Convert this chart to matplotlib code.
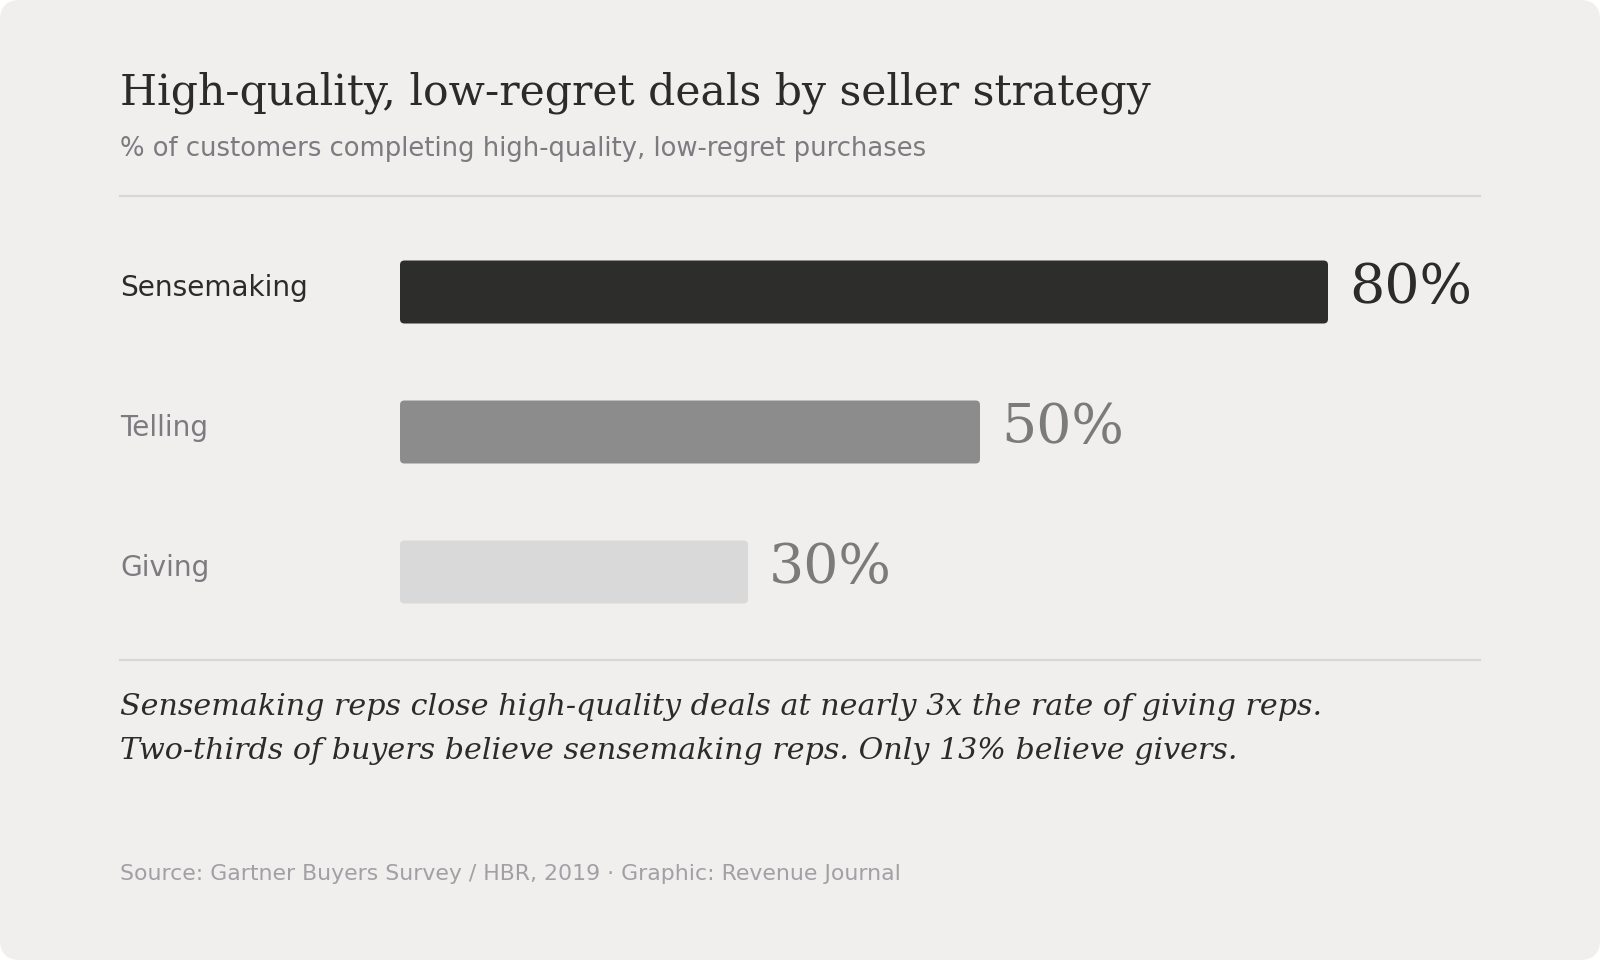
import matplotlib
matplotlib.use("Agg")
import matplotlib.pyplot as plt
from matplotlib.patches import FancyBboxPatch
from matplotlib.lines import Line2D
import matplotlib.transforms as mtransforms

# ---- data ----
categories = ["Sensemaking", "Telling", "Giving"]
values = [80, 50, 30]
value_labels = ["80%", "50%", "30%"]
bar_colors = ["#2d2d2b", "#8c8c8c", "#d9d9d9"]
label_colors = ["#2b2b2b", "#7b7b80", "#7b7b80"]
value_colors = ["#2b2b2b", "#7b7b7b", "#7b7b7b"]

title = "High-quality, low-regret deals by seller strategy"
subtitle = "% of customers completing high-quality, low-regret purchases"
note_lines = ["Sensemaking reps close high-quality deals at nearly 3x the rate of giving reps.",
              "Two-thirds of buyers believe sensemaking reps. Only 13% believe givers."]
source = "Source: Gartner Buyers Survey / HBR, 2019 \u00b7 Graphic: Revenue Journal"

W, H = 1600, 960
DPI = 100
fig = plt.figure(figsize=(W / DPI, H / DPI), dpi=DPI)
fig.patch.set_facecolor("white")

def fx(px):
    return px / W

def fy(py):
    return 1 - py / H

# card background
card = FancyBboxPatch((0, 0), 1, 1, boxstyle="round,pad=0,rounding_size=0.0125",
                      mutation_aspect=W / H, transform=fig.transFigure,
                      facecolor="#f0efed", edgecolor="none", zorder=-10)
fig.patches.append(card)

renderer = fig.canvas.get_renderer()

def fit(t, target_w):
    t.set_fontsize(10)
    w = t.get_window_extent(renderer=renderer).width
    t.set_fontsize(10 * target_w / w)
    return t

# title and subtitle
t = fig.text(fx(120), fy(104), title, family="DejaVu Serif", color="#2b2b2b", va="baseline", ha="left")
fit(t, 1036)
t = fig.text(fx(120), fy(156), subtitle, family="DejaVu Sans", color="#7b7b80", va="baseline", ha="left")
fit(t, 807)

# dividers
for y in (196, 660):
    fig.lines.append(Line2D([fx(120), fx(1480)], [fy(y), fy(y)], transform=fig.transFigure,
                            color="#d8d7d5", linewidth=1.6, zorder=1))

# bar axes: x 0-100 spans 400..1560 px ; three rows of 140 px starting at 222 px
ax = fig.add_axes([fx(400), fy(642), fx(1560) - fx(400), (642 - 222) / H])
ax.set_zorder(5)
ax.set_xlim(0, 100)
ax.set_ylim(2.5, -0.5)
ax.axis("off")
ax.patch.set_alpha(0)

ypos = list(range(len(categories)))
bars = ax.barh(ypos, values, height=0.45, color=bar_colors)
aspect = (1160 / 100) / 140.0
for b, c in zip(bars, bar_colors):
    x0, y0, w, h = b.get_x(), b.get_y(), b.get_width(), b.get_height()
    b.set_visible(False)
    rp = FancyBboxPatch((x0, y0), w, h, boxstyle="round,pad=0,rounding_size=0.38",
                        mutation_aspect=aspect, facecolor=c, edgecolor="none", zorder=2)
    ax.add_patch(rp)

# category labels (figure x, data y)
blend = mtransforms.blended_transform_factory(fig.transFigure, ax.transData)
lab_size = None
for i, (cat, col) in enumerate(zip(categories, label_colors)):
    off = mtransforms.offset_copy(blend, fig=fig, x=0, y=-4.5 * 72 / DPI, units="points")
    t = fig.text(fx(120), i, cat, transform=off, family="DejaVu Sans", color=col,
                 va="baseline", ha="left")
    if lab_size is None:
        fit(t, 188)
        lab_size = t.get_fontsize()
    else:
        t.set_fontsize(lab_size)

# value labels
val_size = None
for i, (v, lab, col) in enumerate(zip(values, value_labels, value_colors)):
    off = mtransforms.offset_copy(ax.transData, fig=fig, x=21 * 72 / DPI, y=-11.5 * 72 / DPI, units="points")
    t = ax.text(v, i, lab, transform=off, family="DejaVu Serif", color=col,
                va="baseline", ha="left", clip_on=False)
    if val_size is None:
        fit(t, 122)
        val_size = t.get_fontsize()
    else:
        t.set_fontsize(val_size)

# note lines
note_size = None
for line, yb in zip(note_lines, (715, 759)):
    t = fig.text(fx(120), fy(yb), line, family="DejaVu Serif", style="italic", color="#2b2b2b",
                 va="baseline", ha="left")
    if note_size is None:
        fit(t, 1201)
        note_size = t.get_fontsize()
    else:
        t.set_fontsize(note_size)

t = fig.text(fx(120), fy(880), source, family="DejaVu Sans", color="#a0a0a5", va="baseline", ha="left")
fit(t, 779)

fig.savefig("out.png", dpi=DPI, facecolor=fig.get_facecolor())
